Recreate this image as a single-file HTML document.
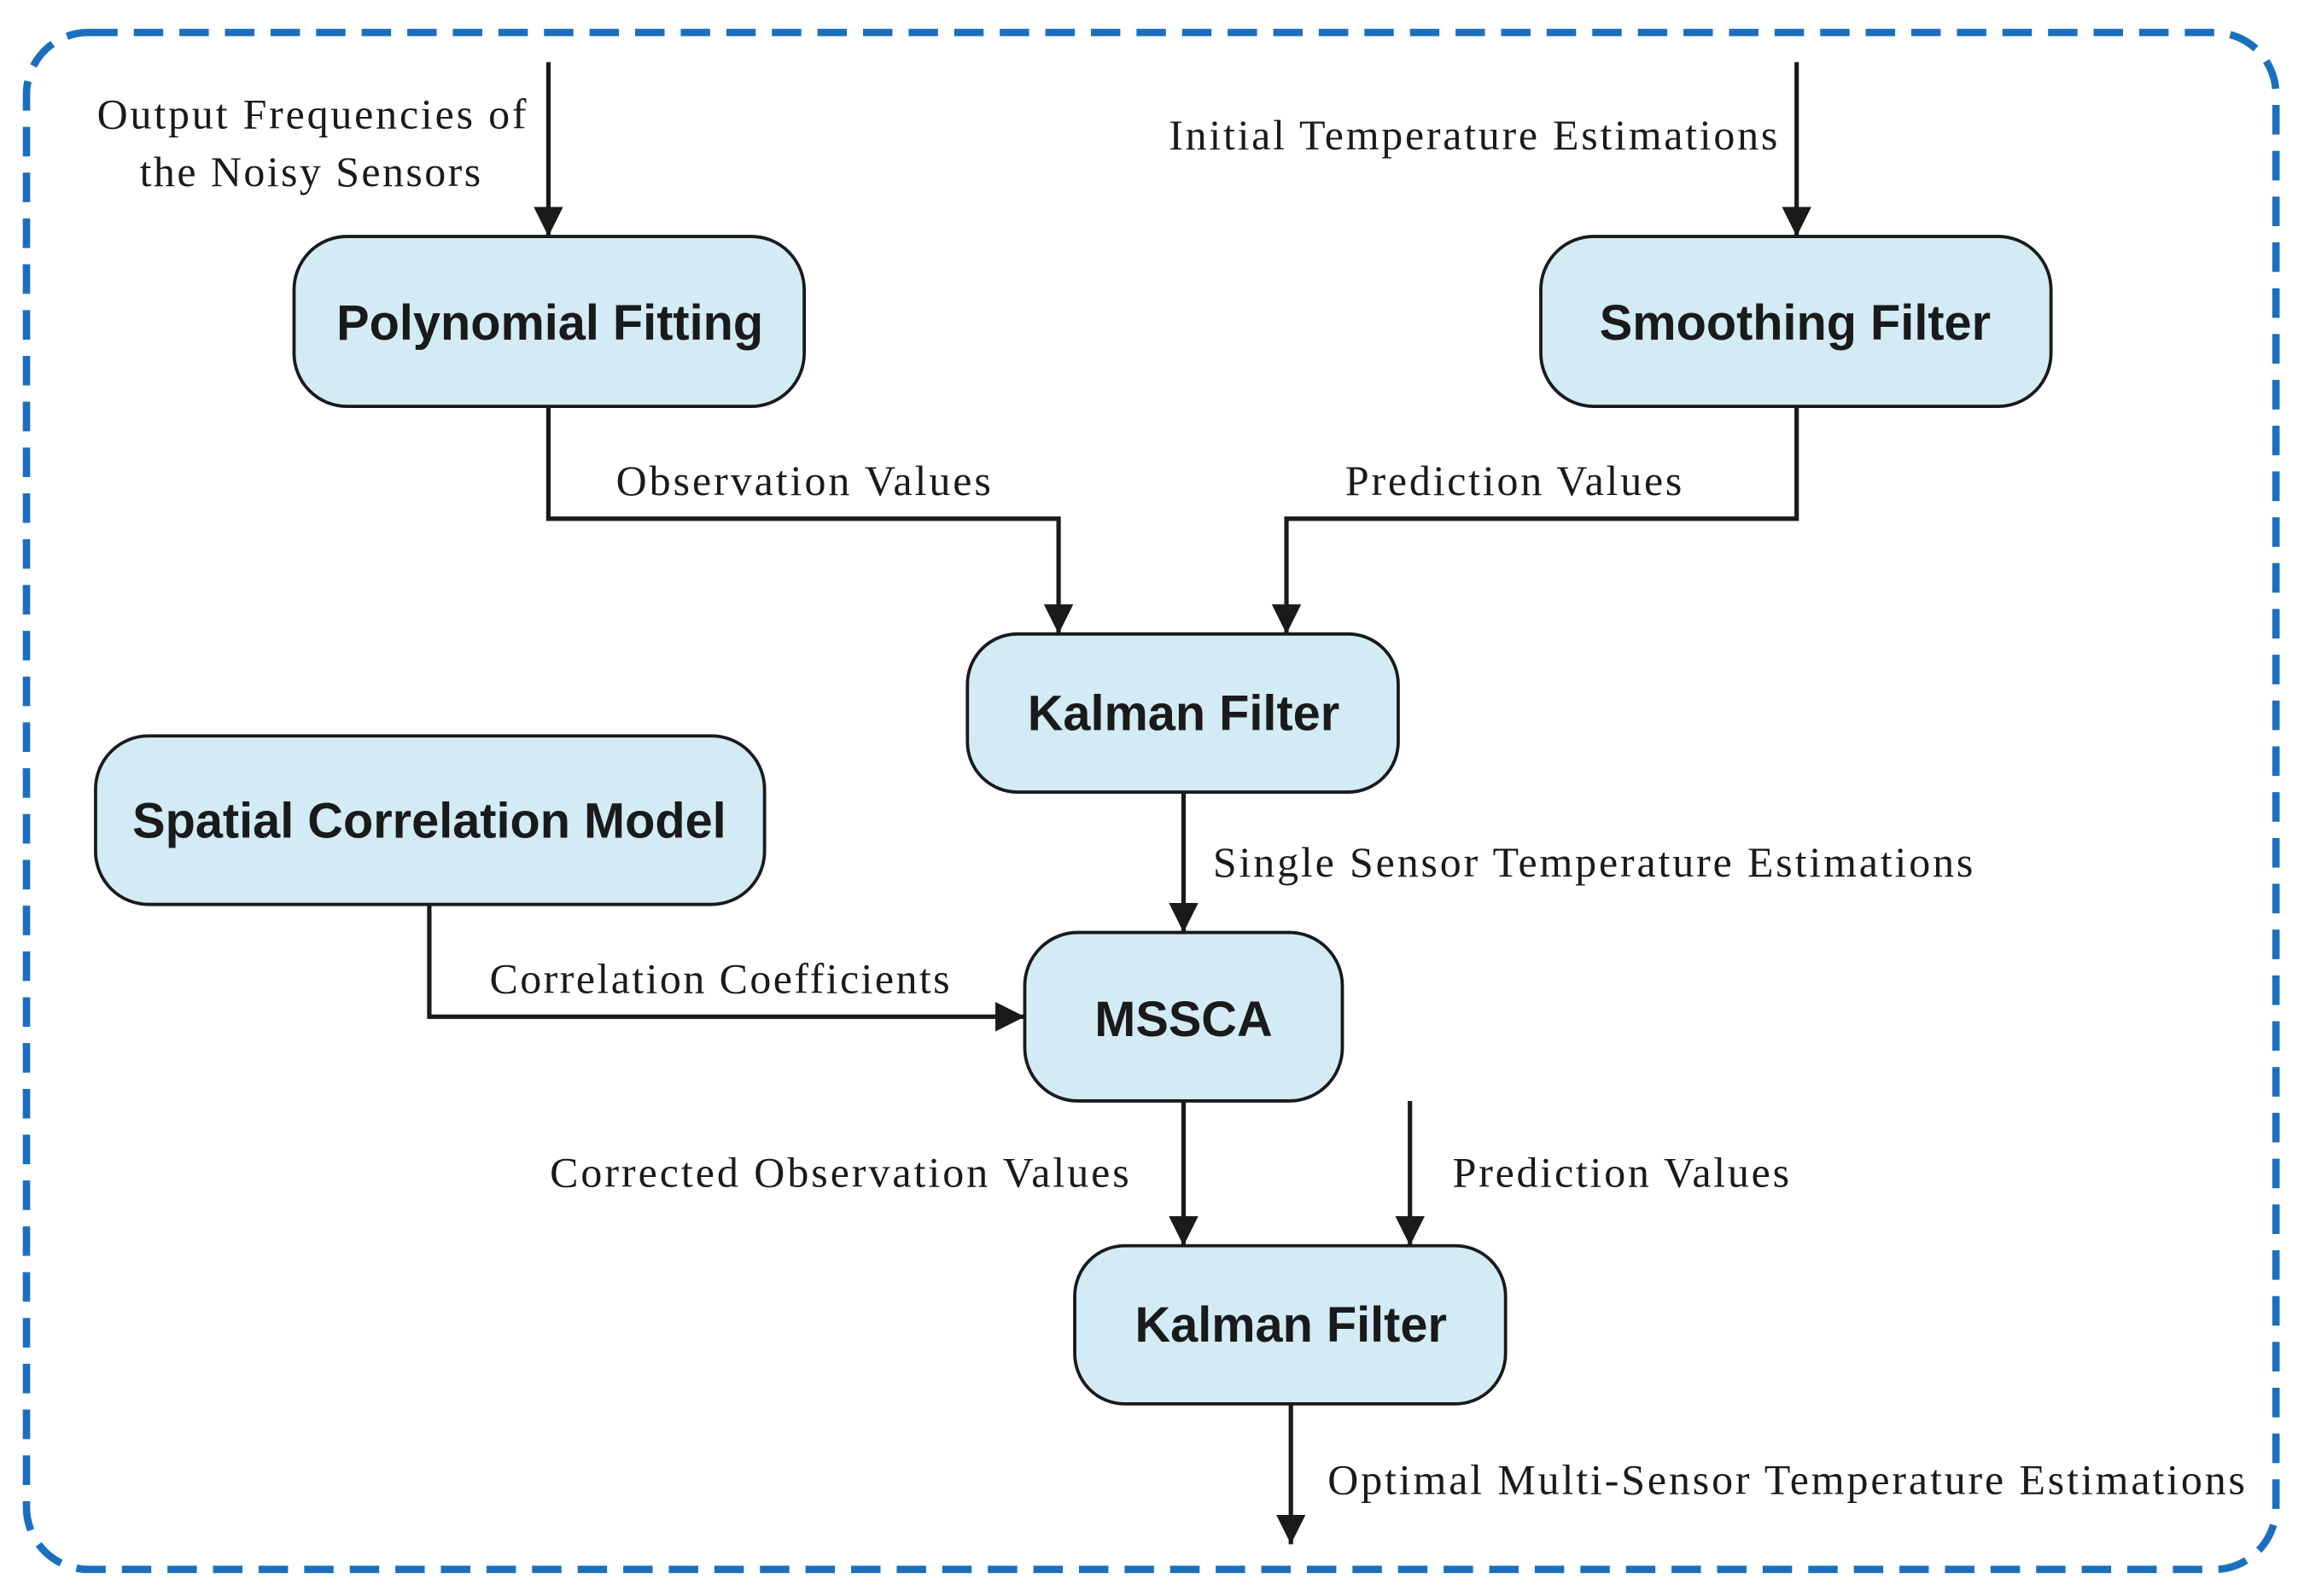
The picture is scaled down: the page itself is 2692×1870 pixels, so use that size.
<!DOCTYPE html>
<html><head><meta charset="utf-8"><style>
html,body{margin:0;padding:0;background:#fff;}
svg{display:block;}
.b{fill:#d3ebf5;stroke:#1a1a1a;stroke-width:2.2;}
.bt{font-family:"Liberation Sans",sans-serif;font-weight:bold;font-size:33.5px;fill:#1a1a1a;text-anchor:middle;}
.l{font-family:"Liberation Serif",serif;font-size:29px;fill:#1a1a1a;}
.c{fill:none;stroke:#1a1a1a;stroke-width:3;}
</style></head><body>
<svg width="2692" height="1870" viewBox="0 0 1563 1080" preserveAspectRatio="none" xmlns="http://www.w3.org/2000/svg">
<defs>
<marker id="h" viewBox="0 0 10 10" refX="10" refY="5" markerWidth="20" markerHeight="20" markerUnits="userSpaceOnUse" orient="auto"><path d="M0,0 L10,5 L0,10 z" fill="#1a1a1a"/></marker></defs>
<rect x="18" y="22" width="1530" height="1040" rx="42" fill="none" stroke="#1a6fbf" stroke-width="5" stroke-dasharray="20,11"/>
<rect class="b" x="200" y="160" width="347" height="115" rx="36"/>
<text class="bt" x="374" y="230">Polynomial Fitting</text>
<rect class="b" x="1048" y="160" width="347" height="115" rx="36"/>
<text class="bt" x="1221" y="230">Smoothing Filter</text>
<rect class="b" x="658" y="429" width="293" height="107" rx="34"/>
<text class="bt" x="805" y="494">Kalman Filter</text>
<rect class="b" x="65" y="498" width="455" height="114" rx="36"/>
<text class="bt" x="292" y="567">Spatial Correlation Model</text>
<rect class="b" x="697" y="631" width="216" height="114" rx="36"/>
<text class="bt" x="805" y="701">MSSCA</text>
<rect class="b" x="731" y="843" width="293" height="107" rx="34"/>
<text class="bt" x="878" y="908">Kalman Filter</text>
<path class="c" d="M373,42 V160" marker-end="url(#h)"/>
<path class="c" d="M1222,42 V160" marker-end="url(#h)"/>
<path class="c" d="M373,275 V351 H720 V429" marker-end="url(#h)"/>
<path class="c" d="M1222,275 V351 H875 V429" marker-end="url(#h)"/>
<path class="c" d="M805,536 V631" marker-end="url(#h)"/>
<path class="c" d="M292,612 V688 H697" marker-end="url(#h)"/>
<path class="c" d="M805,745 V843" marker-end="url(#h)"/>
<path class="c" d="M959,745 V843" marker-end="url(#h)"/>
<path class="c" d="M878,950 V1045" marker-end="url(#h)"/>
<text class="l" x="66" y="87" textLength="292">Output Frequencies of</text>
<text class="l" x="95" y="126" textLength="232">the Noisy Sensors</text>
<text class="l" x="795" y="101" textLength="414">Initial Temperature Estimations</text>
<text class="l" x="419" y="335" textLength="255">Observation Values</text>
<text class="l" x="915" y="335" textLength="229">Prediction Values</text>
<text class="l" x="825" y="593" textLength="517">Single Sensor Temperature Estimations</text>
<text class="l" x="333" y="672" textLength="313">Correlation Coefficients</text>
<text class="l" x="374" y="803" textLength="394">Corrected Observation Values</text>
<text class="l" x="988" y="803" textLength="229">Prediction Values</text>
<text class="l" x="903" y="1011" textLength="624">Optimal Multi-Sensor Temperature Estimations</text>
</svg>
</body></html>
